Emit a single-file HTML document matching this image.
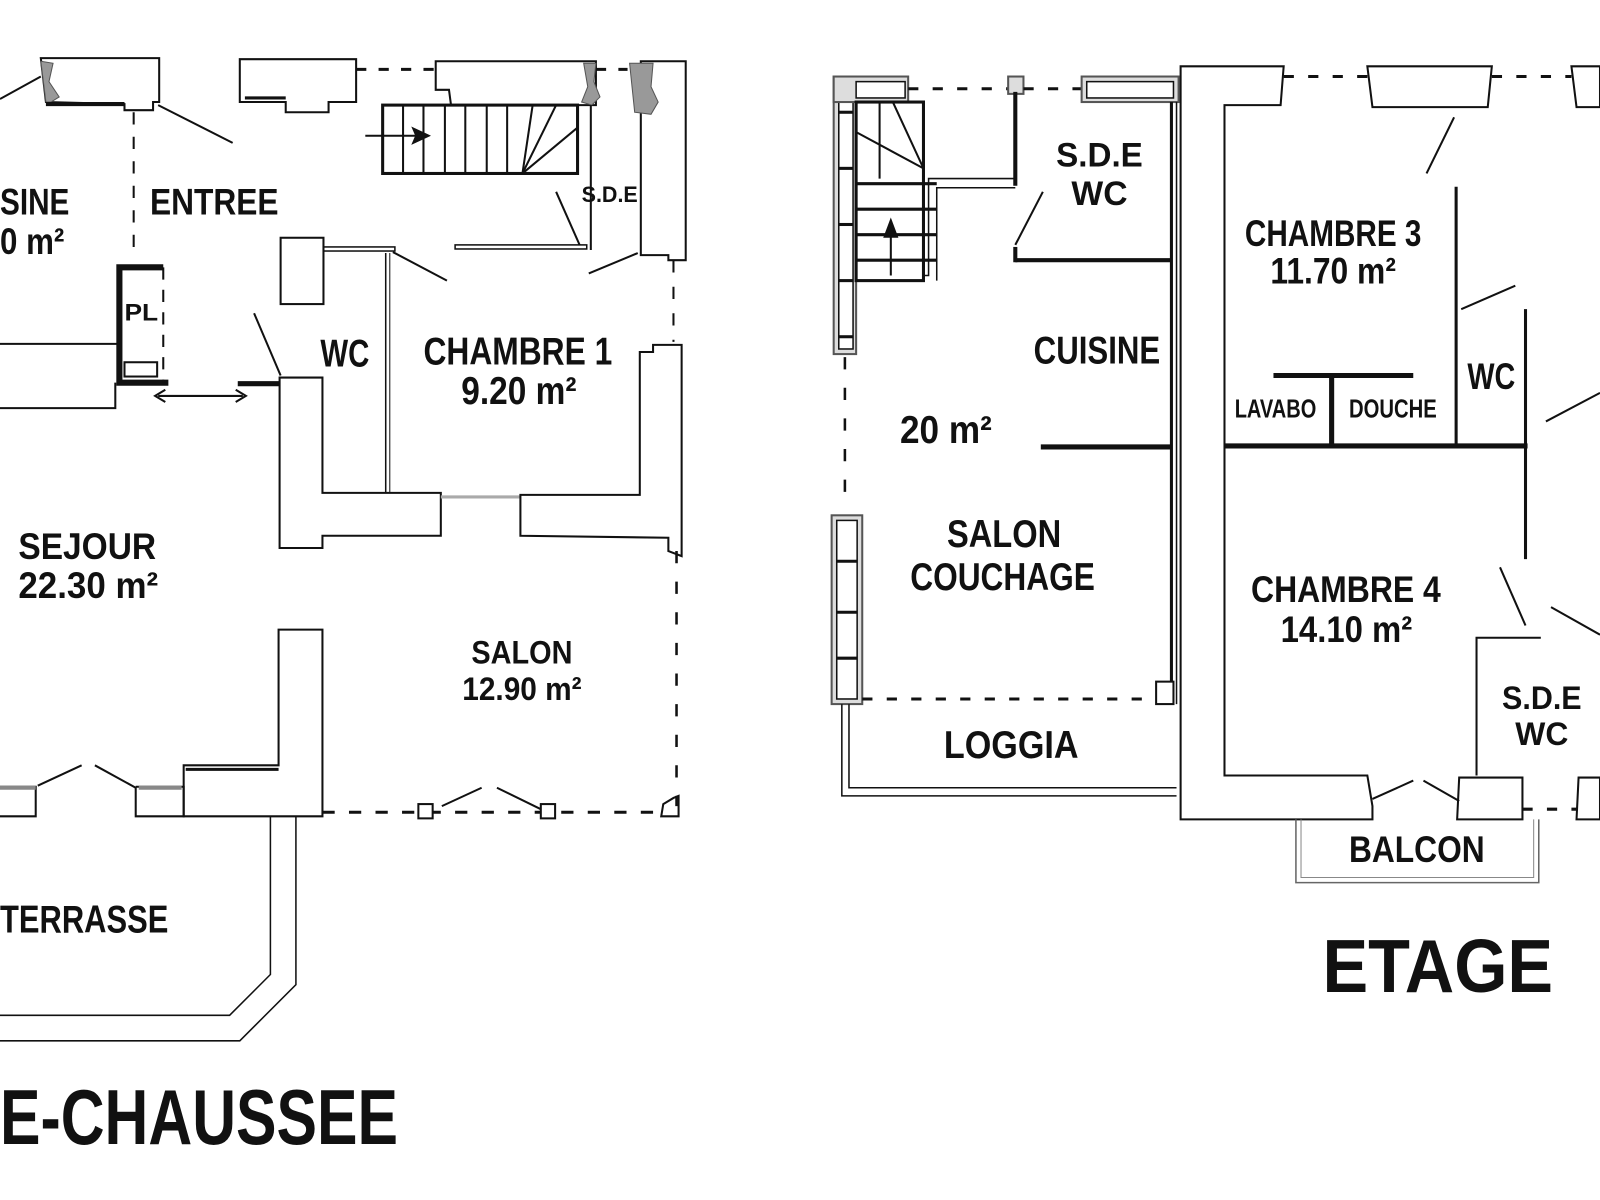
<!DOCTYPE html>
<html><head><meta charset="utf-8"><style>
html,body{margin:0;padding:0;background:#fff;}
svg{display:block;}
text{font-family:"Liberation Sans",sans-serif;font-weight:bold;fill:#111;}
</style></head><body>
<svg width="1600" height="1200" viewBox="0 0 1568 1176" xmlns="http://www.w3.org/2000/svg">
<g fill="none" stroke="#111" stroke-width="2">
<!-- LEFT PLAN -->
<polygon points="40,57 156,57 156,100 150,100 150,108 122,108 122,102 45,100" fill="#fff"/>
<polygon points="40,60 52,62 48,80 58,95 50,100 45,100" fill="#999" stroke="#555" stroke-width="1"/>
<line x1="45" y1="102" x2="122" y2="102" stroke-width="4"/>
<line x1="0" y1="97" x2="40" y2="75"/>
<line x1="155" y1="103" x2="228" y2="140"/>
<line x1="131" y1="110" x2="131" y2="245" stroke-dasharray="12,12"/>
<polygon points="235,58 349,58 349,100 322,100 322,110 280,110 280,100 235,100" fill="#fff"/>
<line x1="240" y1="96" x2="280" y2="96" stroke-width="3"/>
<line x1="349" y1="68" x2="427" y2="68" stroke-width="3" stroke-dasharray="10,12"/>
<polygon points="427,60 584,60 584,103 442,103 440,88 427,88" fill="#fff"/>
<polygon points="572,62 584,62 582,80 588,95 580,103 570,100 576,85" fill="#999" stroke="#555" stroke-width="1"/>
<line x1="584" y1="68" x2="615" y2="68" stroke-width="3" stroke-dasharray="10,12"/>
<polygon points="628,60 672,60 672,255 655,255 655,250 628,250" fill="#fff"/>
<polygon points="617,62 640,62 638,85 645,100 638,112 622,110" fill="#999" stroke="#555" stroke-width="1"/>
<!-- stairs -->
<rect x="375" y="103" width="191" height="67" stroke-width="3"/>
<g stroke-width="2">
<line x1="395" y1="103" x2="395" y2="170"/><line x1="415" y1="103" x2="415" y2="170"/>
<line x1="436" y1="103" x2="436" y2="170"/><line x1="456" y1="103" x2="456" y2="170"/>
<line x1="477" y1="103" x2="477" y2="170"/><line x1="497" y1="103" x2="497" y2="170"/>
<line x1="512" y1="170" x2="522" y2="103"/><line x1="512" y1="170" x2="545" y2="103"/>
<line x1="512" y1="170" x2="566" y2="125"/>
</g>
<line x1="358" y1="133" x2="410" y2="133"/>
<polygon points="420,133 405,126 408,133 405,140" fill="#111"/>
<line x1="579" y1="103" x2="579" y2="245"/>
<line x1="545" y1="188" x2="568" y2="240"/>
<rect x="446" y="240" width="129" height="4" stroke-width="1.5"/>
<line x1="577" y1="268" x2="625" y2="248"/>
<line x1="660" y1="255" x2="660" y2="335" stroke-dasharray="12,14"/>
<rect x="275" y="233" width="42" height="65" fill="#fff"/>
<rect x="317" y="242" width="70" height="4" stroke-width="1.5"/>
<line x1="385" y1="247" x2="438" y2="275"/>
<line x1="378" y1="248" x2="378" y2="483" stroke-width="1.5"/>
<line x1="382" y1="248" x2="382" y2="483" stroke-width="1"/>
<polygon points="274,370 316,370 316,483 432,483 432,525 316,525 316,537 274,537" fill="#fff"/>
<line x1="432" y1="487" x2="510" y2="487" stroke="#aaa" stroke-width="3"/>
<polygon points="510,485 627,485 627,345 640,345 640,338 668,338 668,545 655,540 655,527 510,525" fill="#fff"/>
<line x1="249" y1="307" x2="275" y2="368"/>
<line x1="233" y1="376" x2="274" y2="376" stroke-width="5"/>
<!-- PL -->
<polyline points="160,262 117,262 117,375 165,375" stroke-width="6"/>
<line x1="160" y1="262" x2="160" y2="375" stroke-dasharray="12,10"/>
<rect x="122" y="355" width="32" height="14" stroke-width="2"/>
<polyline points="0,337 115,337"/>
<polyline points="0,400 113,400 113,375"/>
<line x1="155" y1="388" x2="238" y2="388"/>
<polyline points="162,382 152,388 162,394"/><polyline points="231,382 241,388 231,394"/>
<!-- lower left -->
<polygon points="273,617 316,617 316,800 180,800 180,750 273,750" fill="#fff"/>
<line x1="182" y1="754" x2="273" y2="754" stroke-width="3"/>
<line x1="37" y1="770" x2="80" y2="750"/><line x1="93" y1="750" x2="133" y2="772"/>
<polyline points="0,771 35,771 35,800 0,800"/>
<polyline points="133,771 180,771 180,800 133,800 133,771"/>
<line x1="0" y1="772" x2="35" y2="772" stroke="#888" stroke-width="4"/>
<line x1="136" y1="772" x2="178" y2="772" stroke="#888" stroke-width="4"/>
<line x1="316" y1="796" x2="660" y2="796" stroke-width="3" stroke-dasharray="12,14"/>
<line x1="433" y1="790" x2="472" y2="772"/><line x1="487" y1="772" x2="530" y2="793"/>
<rect x="410" y="788" width="14" height="14" fill="#fff"/><rect x="530" y="788" width="14" height="14" fill="#fff"/>
<polygon points="650,788 660,782 665,780 665,800 648,800" fill="#fff"/>
<line x1="663" y1="540" x2="663" y2="790" stroke-width="2.5" stroke-dasharray="12,18"/>
<polyline points="290,800 290,965 235,1020 0,1020" stroke-width="1.5"/>
<polyline points="265,800 265,955 225,995 0,995" stroke-width="1.5"/>
<!-- RIGHT PLAN -->
<rect x="817" y="75" width="22" height="272" fill="#ddd" stroke="#555" stroke-width="2"/>
<rect x="822" y="80" width="14" height="262" fill="#fff" stroke-width="1.5"/>
<g stroke-width="3"><line x1="822" y1="165" x2="836" y2="165"/><line x1="822" y1="220" x2="836" y2="220"/><line x1="822" y1="275" x2="836" y2="275"/><line x1="822" y1="330" x2="836" y2="330"/><line x1="822" y1="110" x2="836" y2="110"/></g>
<rect x="817" y="75" width="73" height="25" fill="#ddd" stroke="#555"/>
<rect x="839" y="80" width="48" height="16" fill="#fff" stroke-width="1.5"/>
<line x1="890" y1="87" x2="988" y2="87" stroke-width="3" stroke-dasharray="10,14"/>
<rect x="988" y="75" width="15" height="17" fill="#ddd" stroke="#555"/>
<line x1="1003" y1="87" x2="1060" y2="87" stroke-width="3" stroke-dasharray="10,14"/>
<rect x="1060" y="75" width="95" height="25" fill="#ddd" stroke="#555"/>
<rect x="1065" y="80" width="85" height="16" fill="#fff" stroke-width="1.5"/>
<rect x="839" y="100" width="66" height="175" stroke-width="3"/>
<g stroke-width="3"><line x1="839" y1="180" x2="918" y2="180"/><line x1="839" y1="205" x2="918" y2="205"/><line x1="839" y1="230" x2="918" y2="230"/><line x1="839" y1="255" x2="918" y2="255"/></g>
<line x1="862" y1="100" x2="862" y2="175" stroke-width="2"/>
<line x1="840" y1="130" x2="905" y2="165" stroke-width="2"/><line x1="875" y1="100" x2="905" y2="165" stroke-width="2"/>
<line x1="873" y1="270" x2="873" y2="225" stroke-width="2"/>
<polygon points="873,216 867,232 879,232" fill="#111"/>
<polyline points="905,270 910,270 910,175 995,175" stroke-width="1.5"/>
<polyline points="918,275 918,184 995,184" stroke-width="1.5"/>
<line x1="995" y1="90" x2="995" y2="182" stroke-width="4"/>
<line x1="995" y1="240" x2="1022" y2="188"/>
<line x1="995" y1="255" x2="1148" y2="255" stroke-width="4"/>
<line x1="995" y1="242" x2="995" y2="257" stroke-width="4"/>
<line x1="1148" y1="100" x2="1148" y2="690" stroke-width="3"/>
<line x1="1153" y1="100" x2="1153" y2="690" stroke-width="1.5"/>
<line x1="1020" y1="438" x2="1148" y2="438" stroke-width="5"/>
<polygon points="1157,65 1258,65 1255,103 1200,103 1200,760 1340,760 1345,790 1345,803 1157,803" fill="#fff" stroke-width="2"/>
<line x1="1258" y1="75" x2="1340" y2="75" stroke-width="3" stroke-dasharray="10,14"/>
<polygon points="1340,65 1462,65 1458,105 1345,105" fill="#fff"/>
<line x1="1462" y1="75" x2="1540" y2="75" stroke-width="3" stroke-dasharray="10,14"/>
<polygon points="1540,65 1568,65 1568,105 1545,105" fill="#fff"/>
<line x1="1398" y1="170" x2="1425" y2="115"/>
<line x1="1427" y1="183" x2="1427" y2="437" stroke-width="3"/>
<line x1="1432" y1="303" x2="1485" y2="280"/>
<line x1="1495" y1="303" x2="1495" y2="548" stroke-width="3"/>
<line x1="1200" y1="437" x2="1497" y2="437" stroke-width="5"/>
<line x1="1248" y1="368" x2="1385" y2="368" stroke-width="5"/>
<line x1="1305" y1="368" x2="1305" y2="437" stroke-width="5"/>
<line x1="1515" y1="413" x2="1568" y2="385"/>
<line x1="1470" y1="556" x2="1495" y2="613"/>
<polyline points="1510,625 1447,625 1447,760" stroke-width="2"/>
<line x1="1520" y1="595" x2="1568" y2="622"/>
<polygon points="1430,762 1492,762 1492,803 1428,803" fill="#fff"/>
<line x1="1492" y1="793" x2="1545" y2="793" stroke-width="3" stroke-dasharray="10,14"/>
<polygon points="1547,762 1568,762 1568,803 1545,803" fill="#fff"/>
<line x1="1345" y1="783" x2="1385" y2="765"/><line x1="1395" y1="765" x2="1430" y2="785"/>
<polyline points="1270,803 1270,865 1508,865 1508,803" stroke="#666" stroke-width="1.5"/>
<polyline points="1275,803 1275,860 1503,860 1503,803" stroke="#888" stroke-width="1"/>
<line x1="828" y1="350" x2="828" y2="500" stroke-width="2.5" stroke-dasharray="12,18"/>
<rect x="815" y="505" width="30" height="185" fill="#ddd" stroke="#555"/>
<rect x="820" y="510" width="20" height="175" fill="#fff" stroke-width="1.5"/>
<g stroke-width="3"><line x1="820" y1="550" x2="840" y2="550"/><line x1="820" y1="600" x2="840" y2="600"/><line x1="820" y1="645" x2="840" y2="645"/></g>
<line x1="845" y1="685" x2="1135" y2="685" stroke-width="3" stroke-dasharray="10,14"/>
<rect x="1133" y="668" width="17" height="22" fill="#fff"/>
<polyline points="825,690 825,780 1153,780" stroke-width="1.5"/>
<polyline points="832,690 832,772 1153,772" stroke-width="1.5"/>
</g>
<!-- LABELS -->
<text x="0" y="210" font-size="36" textLength="68" lengthAdjust="spacingAndGlyphs">SINE</text>
<text x="0" y="249" font-size="36" textLength="63" lengthAdjust="spacingAndGlyphs">0 m²</text>
<text x="147" y="210" font-size="36" textLength="126" lengthAdjust="spacingAndGlyphs">ENTREE</text>
<text x="122" y="314" font-size="24" textLength="33" lengthAdjust="spacingAndGlyphs">PL</text>
<text x="314" y="359" font-size="38" textLength="48" lengthAdjust="spacingAndGlyphs">WC</text>
<text x="415" y="357" font-size="38" textLength="185" lengthAdjust="spacingAndGlyphs">CHAMBRE 1</text>
<text x="452" y="396" font-size="38" textLength="113" lengthAdjust="spacingAndGlyphs">9.20 m²</text>
<text x="570" y="198" font-size="22" textLength="55" lengthAdjust="spacingAndGlyphs">S.D.E</text>
<text x="18" y="548" font-size="36" textLength="135" lengthAdjust="spacingAndGlyphs">SEJOUR</text>
<text x="18" y="586" font-size="36" textLength="137" lengthAdjust="spacingAndGlyphs">22.30 m²</text>
<text x="462" y="650" font-size="32" textLength="99" lengthAdjust="spacingAndGlyphs">SALON</text>
<text x="453" y="686" font-size="32" textLength="117" lengthAdjust="spacingAndGlyphs">12.90 m²</text>
<text x="0" y="914" font-size="38" textLength="165" lengthAdjust="spacingAndGlyphs">TERRASSE</text>
<text x="0" y="1121" font-size="76" textLength="390" lengthAdjust="spacingAndGlyphs">E-CHAUSSEE</text>
<text x="1035" y="163" font-size="34" textLength="85" lengthAdjust="spacingAndGlyphs">S.D.E</text>
<text x="1050" y="201" font-size="34" textLength="55" lengthAdjust="spacingAndGlyphs">WC</text>
<text x="1013" y="356" font-size="38" textLength="124" lengthAdjust="spacingAndGlyphs">CUISINE</text>
<text x="882" y="434" font-size="38" textLength="90" lengthAdjust="spacingAndGlyphs">20 m²</text>
<text x="928" y="536" font-size="38" textLength="112" lengthAdjust="spacingAndGlyphs">SALON</text>
<text x="892" y="578" font-size="38" textLength="181" lengthAdjust="spacingAndGlyphs">COUCHAGE</text>
<text x="925" y="743" font-size="38" textLength="132" lengthAdjust="spacingAndGlyphs">LOGGIA</text>
<text x="1220" y="241" font-size="36" textLength="173" lengthAdjust="spacingAndGlyphs">CHAMBRE 3</text>
<text x="1245" y="278" font-size="36" textLength="123" lengthAdjust="spacingAndGlyphs">11.70 m²</text>
<text x="1210" y="409" font-size="25" textLength="80" lengthAdjust="spacingAndGlyphs">LAVABO</text>
<text x="1322" y="409" font-size="25" textLength="86" lengthAdjust="spacingAndGlyphs">DOUCHE</text>
<text x="1438" y="381" font-size="36" textLength="47" lengthAdjust="spacingAndGlyphs">WC</text>
<text x="1226" y="590" font-size="36" textLength="186" lengthAdjust="spacingAndGlyphs">CHAMBRE 4</text>
<text x="1255" y="629" font-size="36" textLength="129" lengthAdjust="spacingAndGlyphs">14.10 m²</text>
<text x="1472" y="695" font-size="32" textLength="78" lengthAdjust="spacingAndGlyphs">S.D.E</text>
<text x="1485" y="730" font-size="32" textLength="52" lengthAdjust="spacingAndGlyphs">WC</text>
<text x="1322" y="845" font-size="36" textLength="133" lengthAdjust="spacingAndGlyphs">BALCON</text>
<text x="1296" y="972" font-size="74" textLength="226" lengthAdjust="spacingAndGlyphs">ETAGE</text>
</svg>
</body></html>
